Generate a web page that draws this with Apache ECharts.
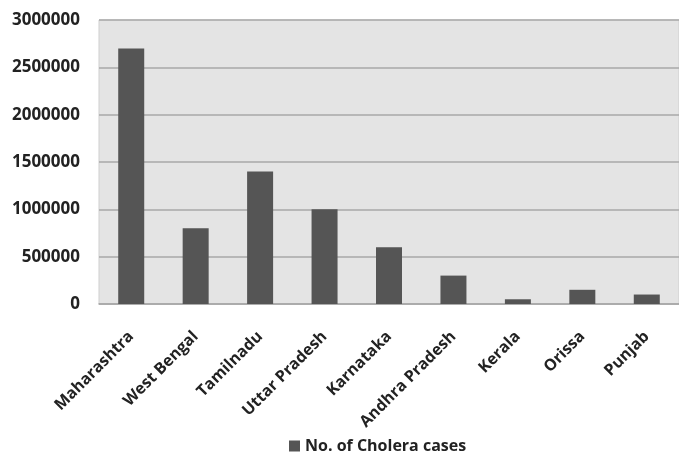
<!DOCTYPE html>
<html>
<head>
<meta charset="utf-8">
<script src="https://cdn.jsdelivr.net/npm/echarts@6/dist/echarts.min.js"></script>
<style>
  html, body { margin: 0; padding: 0; background: #ffffff; }
  #chart { width: 679px; height: 454px; }
</style>
</head>
<body>
<div id="chart"></div>
<script>
// Cholera cases by Indian state
const states = ['Maharashtra', 'West Bengal', 'Tamilnadu', 'Uttar Pradesh', 'Karnataka',
                'Andhra Pradesh', 'Kerala', 'Orissa', 'Punjab'];
const choleraCases = [2700000, 800000, 1400000, 1000000, 600000, 300000, 50000, 150000, 100000];
const seriesName = 'No. of Cholera cases';

const chart = echarts.init(document.getElementById('chart'), null, { renderer: 'canvas' });

chart.setOption({
  backgroundColor: '#ffffff',
  animation: false,
  textStyle: { fontFamily: '"Open Sans", sans-serif' },
  grid: {
    left: 99, right: -5, top: 20, bottom: 150,
    show: true,
    backgroundColor: '#e4e4e4',
    borderColor: '#cfcfcf',
    borderWidth: 1
  },
  legend: {
    bottom: 0,
    left: 284,
    padding: [0, 5, 0, 5],
    itemWidth: 11,
    itemHeight: 11,
    itemGap: 6,
    icon: 'rect',
    textStyle: { fontSize: 16, fontWeight: 'bold', color: '#222', fontFamily: '"Open Sans", sans-serif' },
    data: [seriesName]
  },
  xAxis: {
    type: 'category',
    data: states,
    axisTick: { show: false },
    axisLine: { show: true, lineStyle: { color: '#a8a8a8', width: 1.5 } },
    axisLabel: {
      rotate: 45,
      interval: 0,
      margin: 30,
      fontSize: 16,
      fontWeight: 'bold',
      color: '#222',
      fontFamily: '"Open Sans", sans-serif'
    }
  },
  yAxis: {
    type: 'value',
    min: 0,
    max: 3000000,
    interval: 500000,
    axisLine: { show: false },
    axisTick: { show: false },
    splitLine: { lineStyle: { color: '#a8a8a8', width: 1.5 } },
    axisLabel: {
      margin: 19,
      fontSize: 17,
      fontWeight: 'bold',
      color: '#222',
      fontFamily: '"Open Sans", sans-serif',
      formatter: v => String(v)
    }
  },
  series: [{
    name: seriesName,
    type: 'bar',
    data: choleraCases,
    barWidth: 26,
    itemStyle: { color: '#555555' }
  }]
});
</script>
</body>
</html>
